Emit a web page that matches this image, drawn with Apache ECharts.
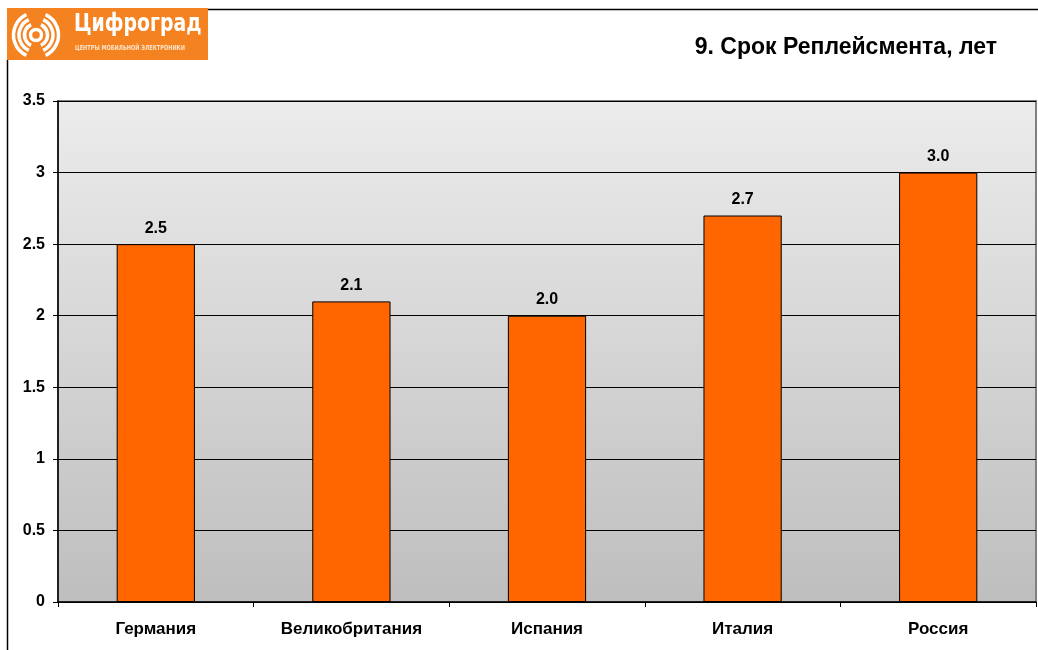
<!DOCTYPE html>
<html><head><meta charset="utf-8">
<script src="https://cdn.jsdelivr.net/npm/echarts@6/dist/echarts.min.js"></script>
<style>html,body{margin:0;padding:0;background:#fff}#c{width:1038px;height:650px}</style>
</head><body><div id="c"></div>
<script>
const categories = ['Германия', 'Великобритания', 'Испания', 'Италия', 'Россия'];
const values = [2.5, 2.1, 2.0, 2.7, 3.0];
const yTicks = [0, 0.5, 1, 1.5, 2, 2.5, 3, 3.5];
const titleText = '9. Срок Реплейсмента, лет';

const F = '"Liberation Sans", Arial, sans-serif';
const chart = echarts.init(document.getElementById('c'));
const cx = 36, cy = 35, logoCol = '#F58220';
const arcs = [];
[11.5, 17, 22.5].forEach((r, i) => {
  arcs.push({type:'arc', shape:{cx:cx, cy:cy, r:r, startAngle:Math.PI*0.64, endAngle:Math.PI*1.36}, style:{stroke:'#fff', lineWidth:3.5, fill:null}, z:10});
  arcs.push({type:'arc', shape:{cx:cx, cy:cy, r:r, startAngle:-Math.PI*0.36, endAngle:Math.PI*0.36}, style:{stroke:'#fff', lineWidth:3.5, fill:null}, z:10});
});
chart.setOption({
  animation: false,
  grid: {left: 58, right: 2, top: 101, bottom: 48, show: true,
    backgroundColor: new echarts.graphic.LinearGradient(0,0,0,1,[{offset:0,color:'#ececec'},{offset:1,color:'#bebebe'}]),
    borderColor: '#808080', borderWidth: 2},
  xAxis: {type:'category', data: categories,
    axisLine:{lineStyle:{color:'#000', width:1.5}},
    axisTick:{show:true, length:5, lineStyle:{color:'#000'}},
    axisLabel:{color:'#000', fontWeight:'bold', fontSize:17, fontFamily:F, margin:19}},
  yAxis: {type:'value', min: yTicks[0], max: yTicks[yTicks.length-1], interval: 0.5,
    axisLine:{show:true, lineStyle:{color:'#000', width:1.5}},
    axisTick:{show:true, length:5, lineStyle:{color:'#000'}},
    splitLine:{lineStyle:{color:'#000', width:1}},
    axisLabel:{color:'#000', fontWeight:'bold', fontSize:16, fontFamily:F, margin:13}},
  series: [{type:'bar', data: values, barWidth: '40%',
    itemStyle:{color:'#FF6600', borderColor:'#000', borderWidth:1},
    label:{show:true, position:'top', distance:8, color:'#000', fontWeight:'bold', fontSize:16, fontFamily:F,
      formatter: p => p.value.toFixed(1)}}],
  graphic: [
    {type:'line', shape:{x1:208, y1:9.5, x2:1038, y2:9.5}, style:{stroke:'#000', lineWidth:1.5}},
    {type:'line', shape:{x1:7.5, y1:60, x2:7.5, y2:650}, style:{stroke:'#000', lineWidth:1.5}},
    {type:'rect', shape:{x:7, y:8, width:201, height:52}, style:{fill:logoCol}, z:5},
    {type:'circle', shape:{cx:cx, cy:cy, r:5.5}, style:{stroke:'#fff', lineWidth:3.5, fill:null}, z:10},
    ...arcs,
    {type:'text', x:74, y:12, scaleX:0.84, style:{text:'Цифроград', fill:'#fff', font:'bold 25px "DejaVu Sans Condensed", sans-serif'}, z:10},
    {type:'text', x:75, y:45, scaleX:0.72, style:{text:'ЦЕНТРЫ МОБИЛЬНОЙ ЭЛЕКТРОНИКИ', fill:'#ffe3c8', font:'bold 7px "DejaVu Sans", sans-serif'}, z:10},
    {type:'text', right:41, top:36, style:{text:titleText, fill:'#000', font:'bold 23px ' + F}}
  ]
});
</script></body></html>
